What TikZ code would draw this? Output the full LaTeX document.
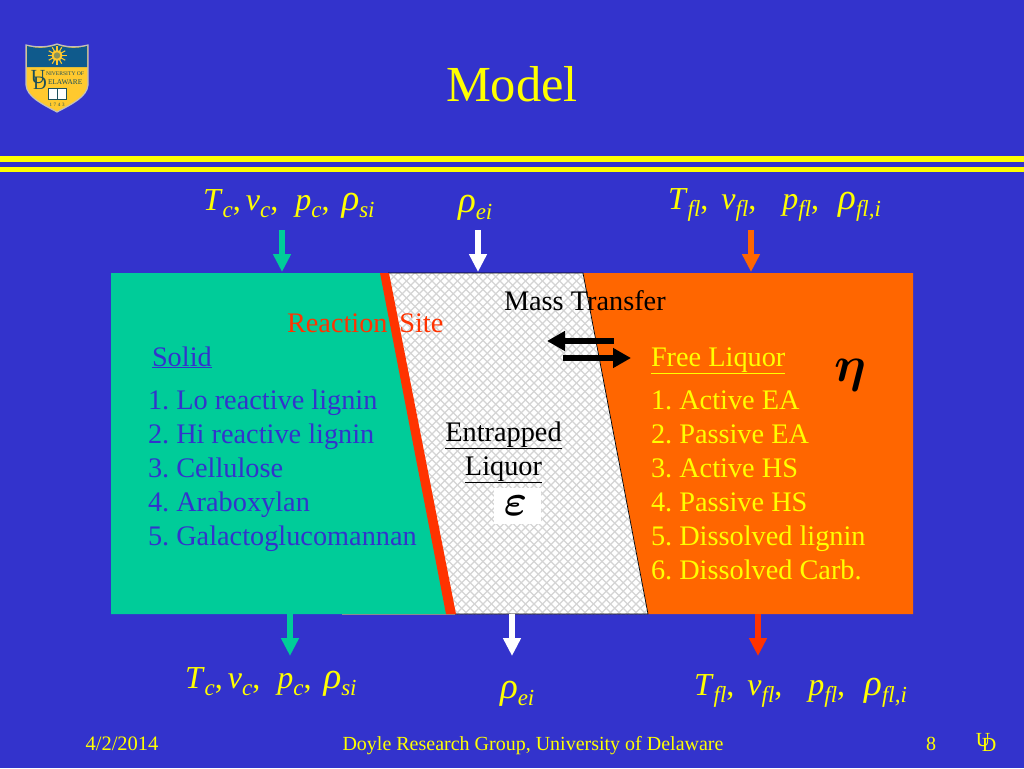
\documentclass[tikz,border=0pt]{standalone}
\usepackage{fontspec}
\setmainfont{Liberation Serif}
\usepackage{graphicx}
\usetikzlibrary{arrows.meta}
\frenchspacing
\definecolor{bgblue}{HTML}{3333CC}
\definecolor{solidgreen}{HTML}{00CC99}
\definecolor{liqorange}{HTML}{FF6600}
\definecolor{sitered}{HTML}{FF3300}
\definecolor{ruley}{HTML}{FFFF00}
\definecolor{shieldblue}{HTML}{0F5A8C}
\definecolor{shieldgold}{HTML}{FFC92E}
\definecolor{shieldink}{HTML}{1C4F5A}
\newcommand{\fsz}[1]{\fontsize{#1}{#1}\selectfont}
\newcommand{\sbx}[1]{\raisebox{-0.22em}{\fsz{23}\textit{#1}}}
\newcommand{\symb}[2]{\textit{#1}\sbx{#2}}
\newcommand{\rhosym}[1]{{\fsz{37}\textit{ρ}}\sbx{#1}}
\newcommand{\solidvars}{\symb{T}{c},\hspace{5pt}\symb{v}{c},\hspace{17pt}\symb{p}{c},\hspace{12pt}\rhosym{si}}
\newcommand{\liqvars}{\symb{T}{fl},\hspace{13pt}\symb{v}{fl},\hspace{26pt}\symb{p}{fl},\hspace{19pt}\rhosym{fl,i}}
\tikzset{
  x=1pt,y=-1pt,
  lbl/.style={anchor=base west,inner sep=0pt,outer sep=0pt},
  body/.style={lbl,font=\fsz{28.3}},
  solidtxt/.style={body,text=bgblue},
  liqtxt/.style={body,text=ruley},
  vars/.style={lbl,font=\fsz{32},text=ruley},
  foot/.style={anchor=base,inner sep=0pt,text=ruley,font=\fsz{20}},
  flow/.style={line width=6.5pt,-{Triangle[length=18pt,width=17pt]}},
  swap/.style={black,line width=6.7pt,-{Triangle[length=18pt,width=19pt]}},
}
\begin{document}
\begin{tikzpicture}
\useasboundingbox (0,0) rectangle (1024,768);
\fill[bgblue] (0,0) rectangle (1024,768);
% rules
\fill[ruley] (0,156) rectangle (1024,161.5);
\fill[ruley] (0,167) rectangle (1024,171.5);
% panels
\fill[solidgreen] (111,273) -- (383,273) -- (448,614) -- (111,614) -- cycle;
\fill[liqorange] (583,273) -- (913,273) -- (913,614) -- (648,614) -- cycle;
\fill[white] (388,273) -- (583,273) -- (648,614) -- (455,614) -- cycle;
\begin{scope}
  \clip (388,273) -- (583,273) -- (648,614) -- (455,614) -- cycle;
  \foreach \k in {0,8.5,...,700} {
    \draw[black!17,line width=1.3pt] (380+\k-360,260) -- (380+\k,620);
    \draw[black!17,line width=1.3pt] (300+\k,260) -- (300+\k-360,620);
  }
  \fill[white] (494,488) rectangle (541,524);
\end{scope}
\draw[black,line width=.7pt] (388,273) -- (583,273) -- (648,614) -- (455,614);
\draw[black!45,line width=.5pt] (342,614) -- (455,614);
\fill[sitered] (380,273) -- (389,273) -- (456,614) -- (446,614) -- cycle;
% title
\node[anchor=base,inner sep=0pt,text=ruley,font=\fsz{50.5}] (title) at (512,101) {Model};
% top labels
\node[vars] (tl1) at (203,210) {\solidvars};
\node[vars] (tl2) at (458,212) {\rhosym{ei}};
\node[vars] (tl3) at (668,209) {\liqvars};
% bottom labels
\node[vars] (bl1) at (185,688) {\solidvars};
\node[vars] (bl2) at (500,698) {\rhosym{ei}};
\node[vars] (bl3) at (694,695) {\liqvars};
% flow arrows
\coordinate (a1s) at (282,230); \coordinate (a1e) at (282,272);
\coordinate (a2s) at (478,230); \coordinate (a2e) at (478,272);
\coordinate (a3s) at (751,230); \coordinate (a3e) at (751,272);
\coordinate (a4s) at (290,614); \coordinate (a4e) at (290,656);
\coordinate (a5s) at (512,614); \coordinate (a5e) at (512,656);
\coordinate (a6s) at (758,614); \coordinate (a6e) at (758,656);
\draw[flow,solidgreen] (a1s) -- (a1e);
\draw[flow,white] (a2s) -- (a2e);
\draw[flow,liqorange] (a3s) -- (a3e);
\draw[flow,solidgreen] (a4s) -- (a4e);
\draw[flow,white] (a5s) -- (a5e);
\draw[flow,sitered] (a6s) -- (a6e);
\coordinate (m1s) at (614,341); \coordinate (m1e) at (547,341);
\coordinate (m2s) at (563,358); \coordinate (m2e) at (631,358);
\draw[swap] (m1s) -- (m1e);
\draw[swap] (m2s) -- (m2e);
% panel text
\node[lbl,font=\fsz{28.3},text=black] (mt) at (504,310) {Mass Transfer};
\node[lbl,font=\fsz{28.3},text=sitered] (rs) at (287,332) {Reaction\, Site};
\node[solidtxt] (sh) at (152,366) {\underline{Solid}};
\node[solidtxt] (s1) at (148,409) {1. Lo reactive lignin};
\node[solidtxt] (s2) at (148,443) {2. Hi reactive lignin};
\node[solidtxt] (s3) at (148,477) {3. Cellulose};
\node[solidtxt] (s4) at (148,511) {4. Araboxylan};
\node[solidtxt] (s5) at (148,545) {5. Galactoglucomannan};
\node[liqtxt] (fh) at (651,366) {\underline{Free Liquor}};
\node[liqtxt] (f1) at (651,409) {1. Active EA};
\node[liqtxt] (f2) at (651,443) {2. Passive EA};
\node[liqtxt] (f3) at (651,477) {3. Active HS};
\node[liqtxt] (f4) at (651,511) {4. Passive HS};
\node[liqtxt] (f5) at (651,545) {5. Dissolved lignin};
\node[liqtxt] (f6) at (651,579) {6. Dissolved Carb.};
\node[anchor=base,inner sep=0pt,font=\fsz{28.3}] (e1) at (503.5,441) {\underline{Entrapped}};
\node[anchor=base,inner sep=0pt,font=\fsz{28.3}] (e2) at (503.5,475) {\underline{Liquor}};
\node[anchor=base,inner sep=0pt] (eps) at (515.5,515) {\scalebox{4.4}{\boldmath$\varepsilon$}};
\node[anchor=base,inner sep=0pt] (eta) at (850,381) {\scalebox{5}{\boldmath$\eta$}};
% footer
\node[foot,font=\fsz{20.5}] (fd) at (122,750) {4/2/2014};
\node[foot] (fg) at (533,750) {Doyle Research Group, University of Delaware};
\node[foot] (fn) at (931,750) {8};
\node[foot] (fu) at (983,746) {U};
\node[foot] (fdd) at (989,751) {D};
% shield
\filldraw[fill=shieldgold,draw=black!25,line width=1.2pt] (26,45) .. controls (38,48) and (48,47) .. (57,44) .. controls (66,47) and (76,48) .. (88,45) -- (88,85) .. controls (87,97) and (72,104) .. (57,112) .. controls (42,104) and (27,97) .. (26,85) -- cycle;
\fill[shieldblue] (27,46) .. controls (38,49) and (48,48) .. (57,45) .. controls (66,48) and (76,49) .. (87,46) -- (87,67) -- (27,67) -- cycle;
\foreach \a in {0,30,...,330} \draw[shieldgold,line width=1.1pt] (57,55.5) -- ++(\a:9.5);
\fill[shieldgold] (57,55.5) circle (5.5);
\fill[shieldblue!50!shieldgold] (57,55.5) circle (3.2);
\node[anchor=base,inner sep=0pt,text=shieldink,font=\fsz{20}] (lu) at (38,83) {U};
\node[anchor=base,inner sep=0pt,text=shieldink,font=\fsz{19}] (ld) at (40,89) {D};
\node[lbl,text=shieldink,font=\fsz{5.6}] (lv) at (46,75) {NIVERSITY OF};
\node[lbl,text=shieldink,font=\fsz{7.3}] (ll) at (48,84.5) {ELAWARE};
\fill[white] (48,88) rectangle (66,99);
\draw[shieldink,line width=.6pt] (48,88) rectangle (66,99) (57,88) -- (57,99);
\node[anchor=base,inner sep=0pt,text=shieldink,font=\fsz{5}] (ly) at (57,106) {1\,\,7\,\,4\,\,3};
\end{tikzpicture}
\end{document}
